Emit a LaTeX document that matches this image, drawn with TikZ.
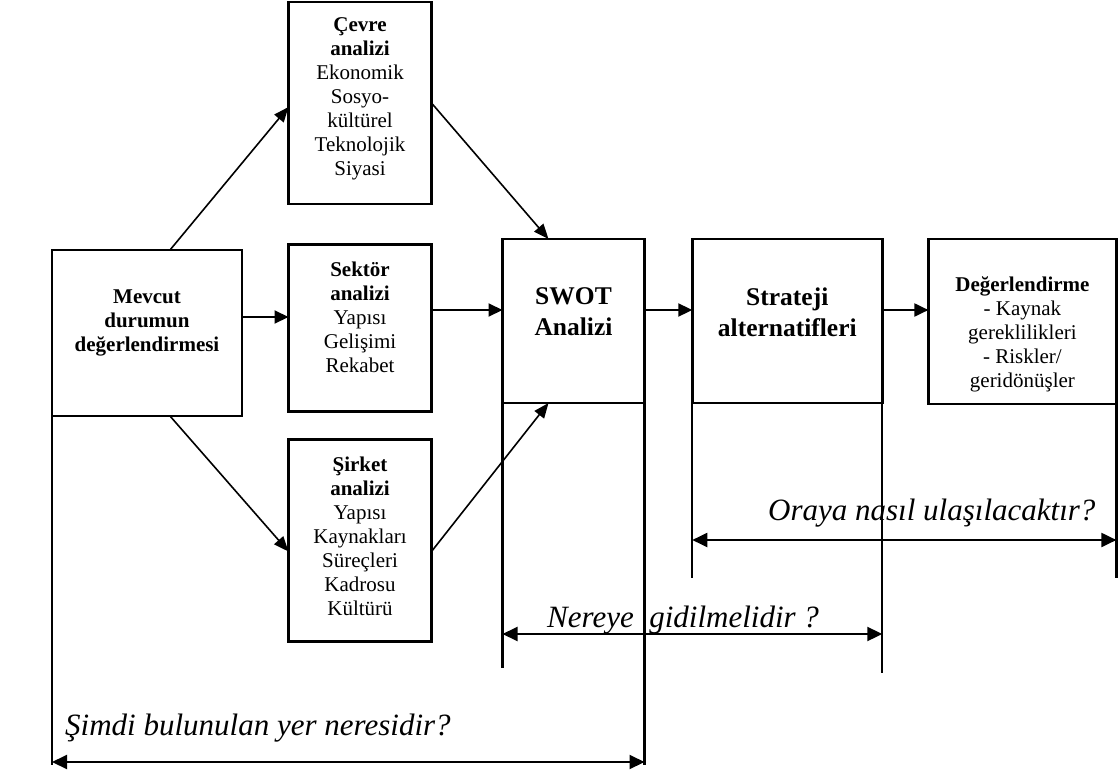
\documentclass[tikz,border=0pt]{standalone}
\usepackage{fontspec}
\setmainfont{Liberation Serif}
\usetikzlibrary{arrows.meta}

\tikzset{
  kutu/.style={draw, line width=2.6pt, outer sep=0pt, inner sep=0pt},
  ok/.style={-{Triangle[length=14pt,width=13pt]}, line width=2pt},
  capraz/.style={-{Triangle[length=15pt,width=12pt]}, line width=1.6pt},
  iki/.style={{Triangle[length=15pt,width=14pt]}-{Triangle[length=15pt,width=14pt]}, line width=2pt},
  cizgi/.style={line width=2.2pt},
  metin/.style={align=center, font=\fontsize{21}{24}\selectfont},
  buyuk/.style={align=center, font=\fontsize{25.5}{31}\selectfont\bfseries},
  soru/.style={anchor=base west, inner sep=0pt, font=\fontsize{31}{36}\selectfont\itshape},
}

\begin{document}
\begin{tikzpicture}[x=1pt,y=-1pt]
\useasboundingbox (0,0) rectangle (1118,773);

% kutular
\node[kutu, minimum width=190, minimum height=166] (mevcut) at (147,333) {};
\node[kutu, minimum width=143, minimum height=202] (cevre) at (360,103) {};
\node[kutu, minimum width=143, minimum height=167] (sektor) at (360,328) {};
\node[kutu, minimum width=143, minimum height=202] (sirket) at (360,540.5) {};
\node[kutu, minimum width=142, minimum height=164] (swot) at (573.5,321) {};
\node[kutu, minimum width=190, minimum height=164] (strateji) at (787.3,321) {};
\node[kutu, minimum width=188, minimum height=165] (deger) at (1022.4,321.5) {};

% yazilar
\node[metin] (mevcut-t) at ([yshift=10]mevcut.center) {\textbf{Mevcut}\\\textbf{durumun}\\\textbf{değerlendirmesi}};
\node[metin] (cevre-t) at ([yshift=4]cevre.center) {\textbf{Çevre}\\\textbf{analizi}\\Ekonomik\\Sosyo-\\kültürel\\Teknolojik\\Siyasi};
\node[metin] (sektor-t) at ([yshift=11]sektor.center) {\textbf{Sektör}\\\textbf{analizi}\\Yapısı\\Gelişimi\\Rekabet};
\node[metin] (sirket-t) at ([yshift=4]sirket.center) {\textbf{Şirket}\\\textbf{analizi}\\Yapısı\\Kaynakları\\Süreçleri\\Kadrosu\\Kültürü};
\node[buyuk] (swot-t) at ([yshift=9]swot.center) {SWOT\\Analizi};
\node[buyuk] (strateji-t) at ([yshift=9]strateji.center) {Strateji\\alternatifleri};
\node[metin] (deger-t) at ([yshift=-13]deger.center) {\textbf{Değerlendirme}\\- Kaynak\\gereklilikleri\\- Riskler/\\geridönüşler};

% oklar
\draw[capraz] ([xshift=23]mevcut.north) -- ([yshift=-4]cevre.west);
\draw[capraz] (cevre.east) -- ([xshift=-25]swot.north);
\draw[capraz] ([xshift=23]mevcut.south) -- ([yshift=-11]sirket.west);
\draw[capraz] ([yshift=-11]sirket.east) -- ([xshift=-25]swot.south);
\draw[ok] (mevcut.east |- 0,317) -- (sektor.west |- 0,317);
\draw[ok] (sektor.east |- 0,310) -- (swot.west |- 0,310);
\draw[ok] (swot.east |- 0,310) -- (strateji.west |- 0,310);
\draw[ok] (strateji.east |- 0,310) -- (deger.west |- 0,310);

% asagi inen cizgiler
\draw[cizgi] (mevcut.south west) -- (mevcut.south west |- 0,765);
\draw[cizgi] (swot.south west) -- (swot.south west |- 0,668);
\draw[cizgi] (swot.south east) -- (swot.south east |- 0,765);
\draw[cizgi] (strateji.south west) -- (strateji.south west |- 0,578);
\draw[cizgi] (strateji.south east) -- (strateji.south east |- 0,673);
\draw[cizgi] (deger.south east) -- (deger.south east |- 0,578);

% sorular
\draw[iki] (mevcut.south west |- 0,762) -- (swot.south east |- 0,762);
\draw[iki] (swot.south west |- 0,634) -- (strateji.south east |- 0,634);
\draw[iki] (strateji.south west |- 0,540) -- (deger.south east |- 0,540);
\node[soru] (simdi) at (65,735) {Şimdi bulunulan yer neresidir?};
\node[soru] (nereye) at (547,627) {Nereye\ \ gidilmelidir ?};
\node[soru] (oraya) at (768,520) {Oraya nasıl ulaşılacaktır?};
\end{tikzpicture}
\end{document}
